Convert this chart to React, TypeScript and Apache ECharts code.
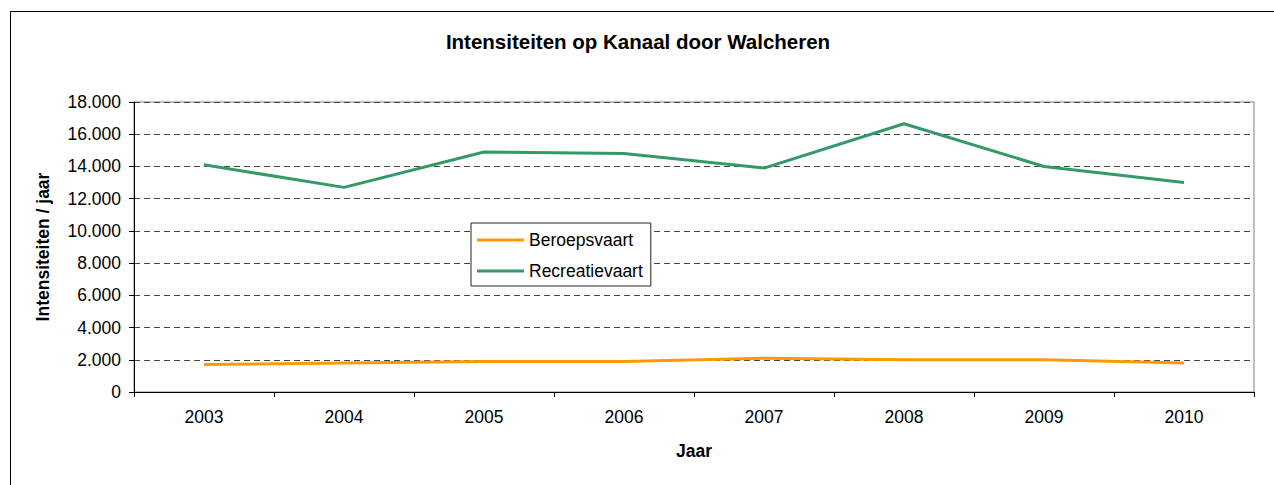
import React, { useEffect, useRef } from "react";
import * as echarts from "echarts";

const years = ["2003", "2004", "2005", "2006", "2007", "2008", "2009", "2010"];
const beroepsvaart = [1700, 1800, 1900, 1900, 2100, 2000, 2000, 1800];
const recreatievaart = [14100, 12700, 14900, 14800, 13900, 16650, 14000, 13000];

const FONT = "Liberation Sans, Arial, sans-serif";
const FS = 17.5;

function fmt(v: number): string {
  return String(v).replace(/\B(?=(\d{3})+(?!\d))/g, ".");
}

export default function App() {
  const ref = useRef<HTMLDivElement>(null);
  useEffect(() => {
    if (!ref.current) return;
    const chart = echarts.init(ref.current, undefined, { renderer: "svg" });
    chart.setOption({
      animation: false,
      backgroundColor: "#fff",
      textStyle: { fontFamily: FONT },
      title: {
        text: "Intensiteiten op Kanaal door Walcheren",
        left: 633,
        top: 26,
        textAlign: "center",
        textStyle: { fontFamily: FONT, fontSize: 20.5, fontWeight: "bold", color: "#000" },
      },
      graphic: [
        {
          type: "rect",
          shape: { x: 10.5, y: 11.5, width: 1300, height: 500 },
          style: { fill: "none", stroke: "#000", lineWidth: 1 },
          silent: true,
        },
      ],
      legend: {
        orient: "vertical",
        left: 471,
        top: 223,
        backgroundColor: "#fff",
        borderColor: "#222",
        borderWidth: 1,
        padding: [8, 8, 6, 6],
        itemGap: 13,
        itemWidth: 47,
        itemHeight: 3,
        icon: "rect",
        textStyle: { fontFamily: FONT, fontSize: FS, color: "#000" },
        data: ["Beroepsvaart", "Recreatievaart"],
      },
      grid: {
        left: 134,
        right: 20,
        top: 102,
        bottom: 93,
        show: true,
        borderColor: "#808080",
        borderWidth: 1,
      },
      xAxis: {
        type: "category",
        data: years,
        boundaryGap: true,
        name: "Jaar",
        nameLocation: "middle",
        nameGap: 50,
        nameTextStyle: { fontFamily: FONT, fontSize: FS, fontWeight: "bold", color: "#000" },
        axisLine: { lineStyle: { color: "#000", width: 1 } },
        axisTick: { show: true, length: 5, lineStyle: { color: "#000" } },
        axisLabel: { fontFamily: FONT, fontSize: FS, color: "#000", margin: 16 },
        splitLine: { show: false },
      },
      yAxis: {
        type: "value",
        min: 0,
        max: 18000,
        interval: 2000,
        name: "Intensiteiten / jaar",
        nameLocation: "middle",
        nameGap: 82,
        nameRotate: 90,
        nameTextStyle: { fontFamily: FONT, fontSize: FS, fontWeight: "bold", color: "#000" },
        axisLine: { show: true, lineStyle: { color: "#000", width: 1 } },
        axisTick: { show: true, length: 5, lineStyle: { color: "#000" } },
        axisLabel: {
          fontFamily: FONT,
          fontSize: FS,
          color: "#000",
          margin: 13,
          formatter: (v: number) => fmt(v),
        },
        splitLine: { show: true, lineStyle: { color: "#444", type: [6, 4], width: 1 } },
      },
      series: [
        {
          name: "Beroepsvaart",
          type: "line",
          data: beroepsvaart,
          symbol: "none",
          color: "#FF9900",
          lineStyle: { color: "#FF9900", width: 3 },
        },
        {
          name: "Recreatievaart",
          type: "line",
          data: recreatievaart,
          symbol: "none",
          color: "#339966",
          lineStyle: { color: "#339966", width: 3 },
        },
      ],
    });
    return () => chart.dispose();
  }, []);
  return (
    <div
      ref={ref}
      style={{ position: "fixed", left: 0, top: 0, width: 1274, height: 485 }}
    />
  );
}
